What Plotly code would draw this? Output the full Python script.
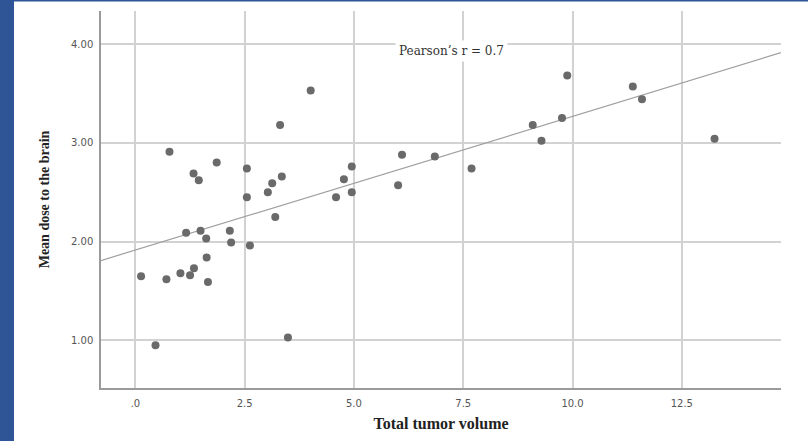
import plotly.graph_objects as go

# Data
tumor_volume = [0.13, 0.46, 0.71, 0.78, 1.03, 1.16, 1.25, 1.34, 1.33, 1.45, 1.49, 1.62, 1.63, 1.66,
                1.86, 2.16, 2.19, 2.55, 2.55, 2.62, 3.03, 3.13, 3.20, 3.31, 3.35, 3.49, 4.01,
                4.59, 4.77, 4.95, 4.95, 6.01, 6.10, 6.85, 7.69, 9.09, 9.29, 9.76, 9.88, 11.38,
                11.59, 13.25]
mean_dose = [1.65, 0.95, 1.62, 2.91, 1.68, 2.09, 1.66, 1.73, 2.69, 2.62, 2.11, 2.03, 1.84, 1.59,
             2.80, 2.11, 1.99, 2.74, 2.45, 1.96, 2.50, 2.59, 2.25, 3.18, 2.66, 1.03, 3.53,
             2.45, 2.63, 2.76, 2.50, 2.57, 2.88, 2.86, 2.74, 3.18, 3.02, 3.25, 3.68, 3.57,
             3.44, 3.04]

fit_x = [-0.79, 14.77]
fit_y = [1.808, 3.912]

x_tickvals = [0, 2.5, 5.0, 7.5, 10.0, 12.5]
x_ticktext = [".0", "2.5", "5.0", "7.5", "10.0", "12.5"]
y_tickvals = [1.0, 2.0, 3.0, 4.0]
y_ticktext = ["1.00", "2.00", "3.00", "4.00"]

annotation_text = "Pearson\u2019s r = 0.7"

fig = go.Figure()

fig.add_trace(go.Scatter(
    x=fit_x, y=fit_y, mode="lines",
    line=dict(color="#a0a0a0", width=1.2),
    hoverinfo="skip", showlegend=False,
))

fig.add_trace(go.Scatter(
    x=tumor_volume, y=mean_dose, mode="markers",
    marker=dict(color="#6a6a6a", size=8, line=dict(width=0)),
    showlegend=False,
))

fig.add_annotation(
    x=7.24, y=3.93, xref="x", yref="y",
    text=annotation_text, showarrow=False,
    font=dict(family="DejaVu Serif", size=12, color="#333333"),
    bgcolor="white", borderpad=3,
)

# Blue strip on the left and thin blue line on top
fig.add_shape(type="rect", xref="paper", yref="paper",
              x0=-0.2, x1=(14 - 101) / 680, y0=-0.3, y1=1.1,
              fillcolor="#2f5597", line=dict(width=0), layer="above")
fig.add_shape(type="rect", xref="paper", yref="paper",
              x0=-0.2, x1=1.1, y0=(388 - 1.5) / 377, y1=1.1,
              fillcolor="#2f5597", line=dict(width=0), layer="above")

fig.update_xaxes(
    range=[-0.787, 14.77],
    tickvals=x_tickvals, ticktext=x_ticktext,
    showgrid=True, gridcolor="#d2d2d2", gridwidth=1.5,
    zeroline=False,
    showline=True, linecolor="#9a9a9a", linewidth=1.5,
    ticks="", ticklabelstandoff=5,
    tickfont=dict(family="DejaVu Sans", size=10, color="#555555"),
    title=dict(text="<b>Total tumor volume</b>", standoff=10,
               font=dict(family="Liberation Serif", size=16, color="#222222")),
)

fig.update_yaxes(
    range=[0.518, 4.334],
    tickvals=y_tickvals, ticktext=y_ticktext,
    showgrid=True, gridcolor="#d2d2d2", gridwidth=1.5,
    zeroline=False,
    showline=True, linecolor="#9a9a9a", linewidth=1.5,
    ticks="", ticklabelstandoff=4,
    tickfont=dict(family="DejaVu Sans", size=10, color="#555555"),
    title=dict(text="<b>Mean dose to the brain</b>", standoff=18,
               font=dict(family="Liberation Serif", size=14, color="#222222")),
)

fig.update_layout(
    width=808, height=441,
    margin=dict(l=101, r=27, t=11, b=53),
    paper_bgcolor="white", plot_bgcolor="white",
    showlegend=False,
)

fig.write_html("out.html",
               config={"displayModeBar": False},
               post_script="document.body.style.margin='0px';document.body.style.overflow='hidden';")
